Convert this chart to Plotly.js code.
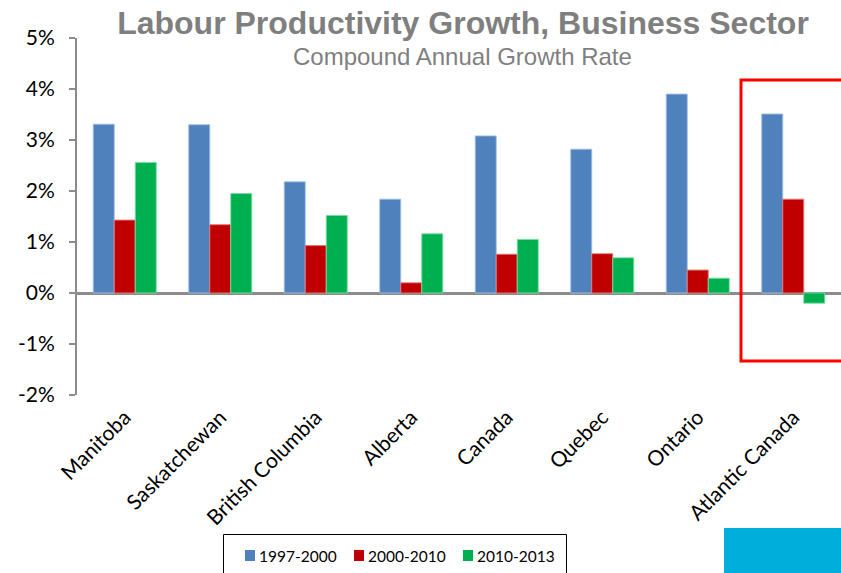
<!DOCTYPE html>
<html>
<head>
<meta charset="utf-8">
<script src="https://cdn.plot.ly/plotly-3.0.1.min.js"></script>
<style>html,body{margin:0;padding:0;background:#fff;}#chart{width:841px;height:573px;}</style>
</head>
<body>
<div id="chart"></div>
<script>
const categories = ["Manitoba","Saskatchewan","British Columbia","Alberta","Canada","Quebec","Ontario","Atlantic Canada"];
const series1997_2000 = [3.31, 3.30, 2.18, 1.84, 3.08, 2.82, 3.90, 3.51];
const series2000_2010 = [1.43, 1.34, 0.93, 0.20, 0.76, 0.77, 0.45, 1.84];
const series2010_2013 = [2.56, 1.95, 1.52, 1.16, 1.05, 0.69, 0.29, -0.20];
const seriesNames = ["1997-2000", "2000-2010", "2010-2013"];
const yTickVals = [-2, -1, 0, 1, 2, 3, 4, 5];
const yTickText = ["-2%", "-1%", "0%", "1%", "2%", "3%", "4%", "5%"];

const colors = ["#4F81BD", "#C00000", "#00B050"];
const lineColors = ["rgba(160,190,230,0.9)", "rgba(230,120,120,0.9)", "rgba(120,220,160,0.9)"];
const allSeries = [series1997_2000, series2000_2010, series2010_2013];

const traces = allSeries.map((vals, i) => ({
  type: "bar",
  x: categories,
  y: vals,
  name: seriesNames[i],
  marker: {color: colors[i], line: {color: lineColors[i], width: 1}},
  hoverinfo: "x+y+name"
}));

// plot area in pixels: x 77..841, y 38..395
const PL = 77, PW = 764, PT = 38, PH = 357;
const px = x => (x - PL) / PW;
const py = y => (PT + PH - y) / PH;

const gray = "#7F7F7F";
const labelFont = "Lato, 'Liberation Sans', sans-serif";

const annotations = [{
  text: "Compound Annual Growth Rate",
  xref: "paper", yref: "paper",
  x: px(462), y: py(56),
  xanchor: "center", yanchor: "middle", showarrow: false,
  font: {family: "'Liberation Sans', Arial, sans-serif", size: 24, color: gray}
}];

const shapes = [
  {type: "rect", xref: "paper", yref: "paper",
   x0: px(741), x1: px(860), y0: py(361), y1: py(80),
   line: {color: "#FF0000", width: 3}, fillcolor: "rgba(0,0,0,0)"},
  {type: "rect", xref: "paper", yref: "paper",
   x0: px(724), x1: px(860), y0: py(590), y1: py(528),
   line: {width: 0}, fillcolor: "#00AEDB"},
  // legend box
  {type: "rect", xref: "paper", yref: "paper",
   x0: px(223.5), x1: px(566.5), y0: py(590), y1: py(534.5),
   line: {color: "#000", width: 1}, fillcolor: "#fff"}
];

seriesNames.forEach((name, i) => {
  const x0 = 245 + 109 * i;
  shapes.push({type: "rect", xref: "paper", yref: "paper",
    x0: px(x0), x1: px(x0 + 10), y0: py(561), y1: py(550),
    line: {width: 0}, fillcolor: colors[i]});
  annotations.push({text: name, xref: "paper", yref: "paper",
    x: px(x0 + 12), y: py(555.5), xanchor: "left", yanchor: "middle",
    showarrow: false,
    font: {family: labelFont, size: 15.5, color: "#000"}});
});

const layout = {
  width: 841, height: 573,
  margin: {l: PL, r: 0, t: PT, b: 573 - PT - PH, pad: 0},
  paper_bgcolor: "#fff", plot_bgcolor: "#fff",
  barmode: "group",
  bargap: 0.34, bargroupgap: 0,
  font: {family: labelFont, color: "#000"},
  title: {
    text: "<b>Labour Productivity Growth, Business Sector</b>",
    font: {family: "'Liberation Sans', Arial, sans-serif", size: 32, color: gray},
    x: 463/841, xanchor: "center", xref: "container",
    y: 1 - 23/573, yanchor: "middle", yref: "container"
  },
  annotations: annotations,
  shapes: shapes,
  xaxis: {
    type: "category",
    showgrid: false, showline: false, zeroline: false, ticks: "",
    tickangle: -45,
    ticklabelstandoff: 5,
    tickfont: {family: labelFont, size: 21, color: "#000"},
    fixedrange: true
  },
  yaxis: {
    range: [-2, 5],
    tickmode: "array", tickvals: yTickVals, ticktext: yTickText,
    showgrid: false,
    showline: true, linecolor: "#8C8C8C", linewidth: 2,
    ticks: "outside", ticklen: 6, tickwidth: 2, tickcolor: "#8C8C8C",
    ticklabelstandoff: 10,
    zeroline: true, zerolinecolor: "#8C8C8C", zerolinewidth: 3,
    tickfont: {family: labelFont, size: 21, color: "#000"},
    fixedrange: true
  },
  showlegend: false
};

Plotly.newPlot("chart", traces, layout, {displayModeBar: false, staticPlot: true});
</script>
</body>
</html>
